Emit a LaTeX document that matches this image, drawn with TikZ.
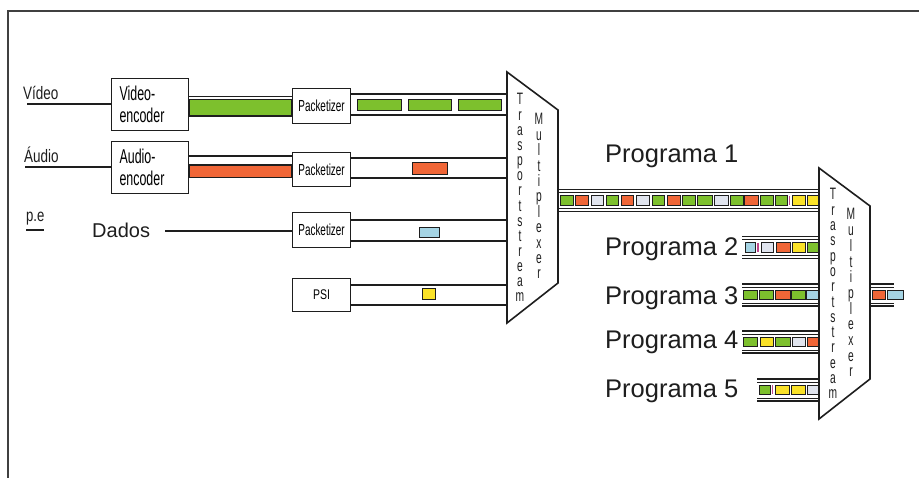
\documentclass[tikz,border=0pt]{standalone}
\usepackage{fontspec}
\setmainfont{Liberation Sans}
\newfontfamily\condA[FakeStretch=0.75]{Liberation Sans}
\newfontfamily\condB[FakeStretch=0.62]{Liberation Sans}
\definecolor{pgreen}{RGB}{125,192,45}
\definecolor{porange}{RGB}{240,102,55}
\definecolor{plight}{RGB}{224,228,238}
\definecolor{pcyan}{RGB}{165,212,228}
\definecolor{pyellow}{RGB}{250,226,40}
\definecolor{pmag}{RGB}{190,70,140}
\definecolor{ink}{RGB}{30,30,30}
\newcommand\pkts[2]{\foreach \a/\b/\c in {#2} {\draw[pkt,fill=\c] (\a,#1-4.8) rectangle (\b,#1+4.8);}}
\newcommand\pipe[3]{%
  \draw[outerwire] (#1,#3-11) -- (#2,#3-11);
  \draw[thinwire] (#1,#3-8) -- (#2,#3-8);
  \draw[thinwire] (#1,#3+8) -- (#2,#3+8);
  \draw[outerwire] (#1,#3+11) -- (#2,#3+11);}
\begin{document}
\begin{tikzpicture}[x=1pt,y=-1pt,
 box/.style={draw=ink,line width=1.2pt,fill=white,inner sep=0pt,anchor=north west},
 wire/.style={draw=ink,line width=1.2pt},
 outerwire/.style={draw=ink,line width=1.2pt},
 thinwire/.style={draw=ink,line width=0.8pt},
 pkt/.style={draw=ink,line width=0.8pt},
 muxshape/.style={draw=ink,line width=1.6pt,fill=white,line join=miter},
 lbl/.style={inner sep=0pt,anchor=base west,text=ink},
 muxl/.style={inner sep=0pt,anchor=base,text=ink,font=\condB\fontsize{16.5}{16}\selectfont},
 prog/.style={inner sep=0pt,anchor=base west,text=ink,font=\fontsize{25.5}{30}\selectfont}]
\useasboundingbox (0,0) rectangle (919,478);
\fill[white] (0,0) rectangle (919,478);
% frame
\draw[draw=ink!85,line width=1.4pt] (919,11) -- (8,11) -- (8,478);

% input labels
\node[lbl,font=\condA\fontsize{18}{20}\selectfont] (lvid) at (23,100) {Vídeo};
\node[lbl,font=\condA\fontsize{18}{20}\selectfont] (laud) at (24,163) {Áudio};
\node[lbl,font=\condA\fontsize{17.5}{20}\selectfont] (lpe) at (26,222) {p.e};
\draw[wire,line width=1.3pt] (lpe.base west) ++(0,8) coordinate (peu) -- ++(18,0);
\node[lbl,font=\fontsize{20}{24}\selectfont] (ldad) at (92,238) {Dados};

% boxes
\node[box,text width=61pt,inner xsep=8pt,minimum height=52pt,align=left,
      font=\condB\fontsize{20}{22}\selectfont] (venc) at (111,78) {Video-\\encoder};
\node[box,text width=61pt,inner xsep=8pt,minimum height=52pt,align=left,
      font=\condB\fontsize{20}{22}\selectfont] (aenc) at (111,141) {Audio-\\encoder};
\node[box,minimum width=58pt,minimum height=35pt,font=\condB\fontsize{16}{18}\selectfont] (pk1) at (292,88) {Packetizer};
\node[box,minimum width=58pt,minimum height=34pt,font=\condB\fontsize{16}{18}\selectfont] (pk2) at (292,152) {Packetizer};
\node[box,minimum width=58pt,minimum height=35pt,font=\condB\fontsize{16}{18}\selectfont] (pk3) at (292,212) {Packetizer};
\node[box,minimum width=58pt,minimum height=33pt,font=\condA\fontsize{14}{16}\selectfont] (psi) at (292,278) {PSI};

% input wires
\coordinate (vin) at (27,104);
\coordinate (ain) at (25,167);
\coordinate (din) at (165,231);
\draw[wire] (vin) -- (vin -| venc.west);
\draw[wire] (ain) -- (ain -| aenc.west);
\draw[wire] (din) -- (din -| pk3.west);

% encoder -> packetizer streams
\draw[wire] (venc.east |- 0,96.5) -- (pk1.west |- 0,96.5);
\draw[pkt,line width=1.1pt,fill=pgreen] (venc.east |- 0,99.5) rectangle (pk1.west |- 0,116);
\draw[wire] (aenc.east |- 0,156) -- (pk2.west |- 0,156);
\draw[pkt,line width=1.1pt,fill=porange] (aenc.east |- 0,165) rectangle (pk2.west |- 0,177.5);

% multiplexer 1
\coordinate (m1a) at (507,72);
\coordinate (m1b) at (558,110);
\coordinate (m1c) at (558,283);
\coordinate (m1d) at (507,323);

% packetizer -> mux1
\foreach \n/\ya/\yb in {pk1/94/115,pk2/158/178,pk3/220/241,psi/285/305}{
  \draw[wire] (\n.east |- 0,\ya) -- (m1a |- 0,\ya);
  \draw[wire] (\n.east |- 0,\yb) -- (m1a |- 0,\yb);
}
\foreach \a/\b in {357/401,408/451,458/501}{\draw[pkt,fill=pgreen] (\a,99) rectangle (\b,110);}
\draw[pkt,fill=porange] (412,162) rectangle (447,174);
\draw[pkt,fill=pcyan] (419,227) rectangle (439,237);
\draw[pkt,fill=pyellow] (422,288) rectangle (435,299);

\draw[muxshape] (m1a) -- (m1b) -- (m1c) -- (m1d) -- cycle;
\foreach \ch [count=\i from 0] in {T,r,a,s,p,o,r,t,s,t,r,e,a,m}
  \node[muxl] (m1t\i) at (520,105+15.15*\i) {\ch};
\foreach \ch [count=\i from 0] in {M,u,l,t,i,p,l,e,x,e,r}
  \node[muxl] (m1m\i) at (539,125+15.4*\i) {\ch};

% multiplexer 2
\coordinate (m2a) at (819,168);
\coordinate (m2b) at (870,206);
\coordinate (m2c) at (870,379);
\coordinate (m2d) at (819,419);

% Programa 1 (mux1 -> mux2)
\pipe{558}{819}{200.5}
\pkts{200.5}{560/573/pgreen,575/588/porange,591/603/plight,606/618/pgreen,621/633/porange,636/649/plight,652/664/pgreen,667/680/porange,682/695/pgreen,697/712/pgreen,714/728/plight,730/743/pgreen,744/758/porange,760/773/pgreen,775/787/pgreen,792/805/pyellow,807/819/pyellow}
\draw[pmag,line width=1.3pt] (789.5,196) -- (789.5,205);

% Programa 2..5
\pipe{742}{819}{247.5}
\pkts{247.5}{745/755/pcyan,761/773/plight,776/790/porange,792/805/pyellow,807/819/pgreen}
\draw[pmag,line width=1.3pt] (758,243) -- (758,252);
\pipe{742}{819}{295}
\pkts{295}{743/757/pgreen,759/773/pgreen,775/790/porange,791/805/pgreen,806/819/pcyan}
\pipe{742}{819}{342}
\pkts{342}{743/757/pgreen,760/773/pyellow,775/790/pgreen,792/805/plight,807/819/porange}
\pipe{757}{819}{390}
\pkts{390}{759/770/pgreen,775/789/pyellow,791/805/pyellow,807/819/plight}
\draw[pmag,line width=1.3pt] (772.5,385.5) -- (772.5,394.5);

% output of mux2
\pipe{870}{894}{295}
\pkts{295}{872/885/porange,887/903/pcyan}

\draw[muxshape] (m2a) -- (m2b) -- (m2c) -- (m2d) -- cycle;
\foreach \ch [count=\i from 0] in {T,r,a,s,p,o,r,t,s,t,r,e,a,m}
  \node[muxl] (m2t\i) at (833,200+15.3*\i) {\ch};
\foreach \ch [count=\i from 0] in {M,u,l,t,i,p,l,e,x,e,r}
  \node[muxl] (m2m\i) at (851,220+15.7*\i) {\ch};

% programme labels
\node[prog] (p1) at (605,163) {Programa 1};
\node[prog] (p2) at (605,256) {Programa 2};
\node[prog] (p3) at (605,305) {Programa 3};
\node[prog] (p4) at (605,349) {Programa 4};
\node[prog] (p5) at (605,398) {Programa 5};
\end{tikzpicture}
\end{document}
